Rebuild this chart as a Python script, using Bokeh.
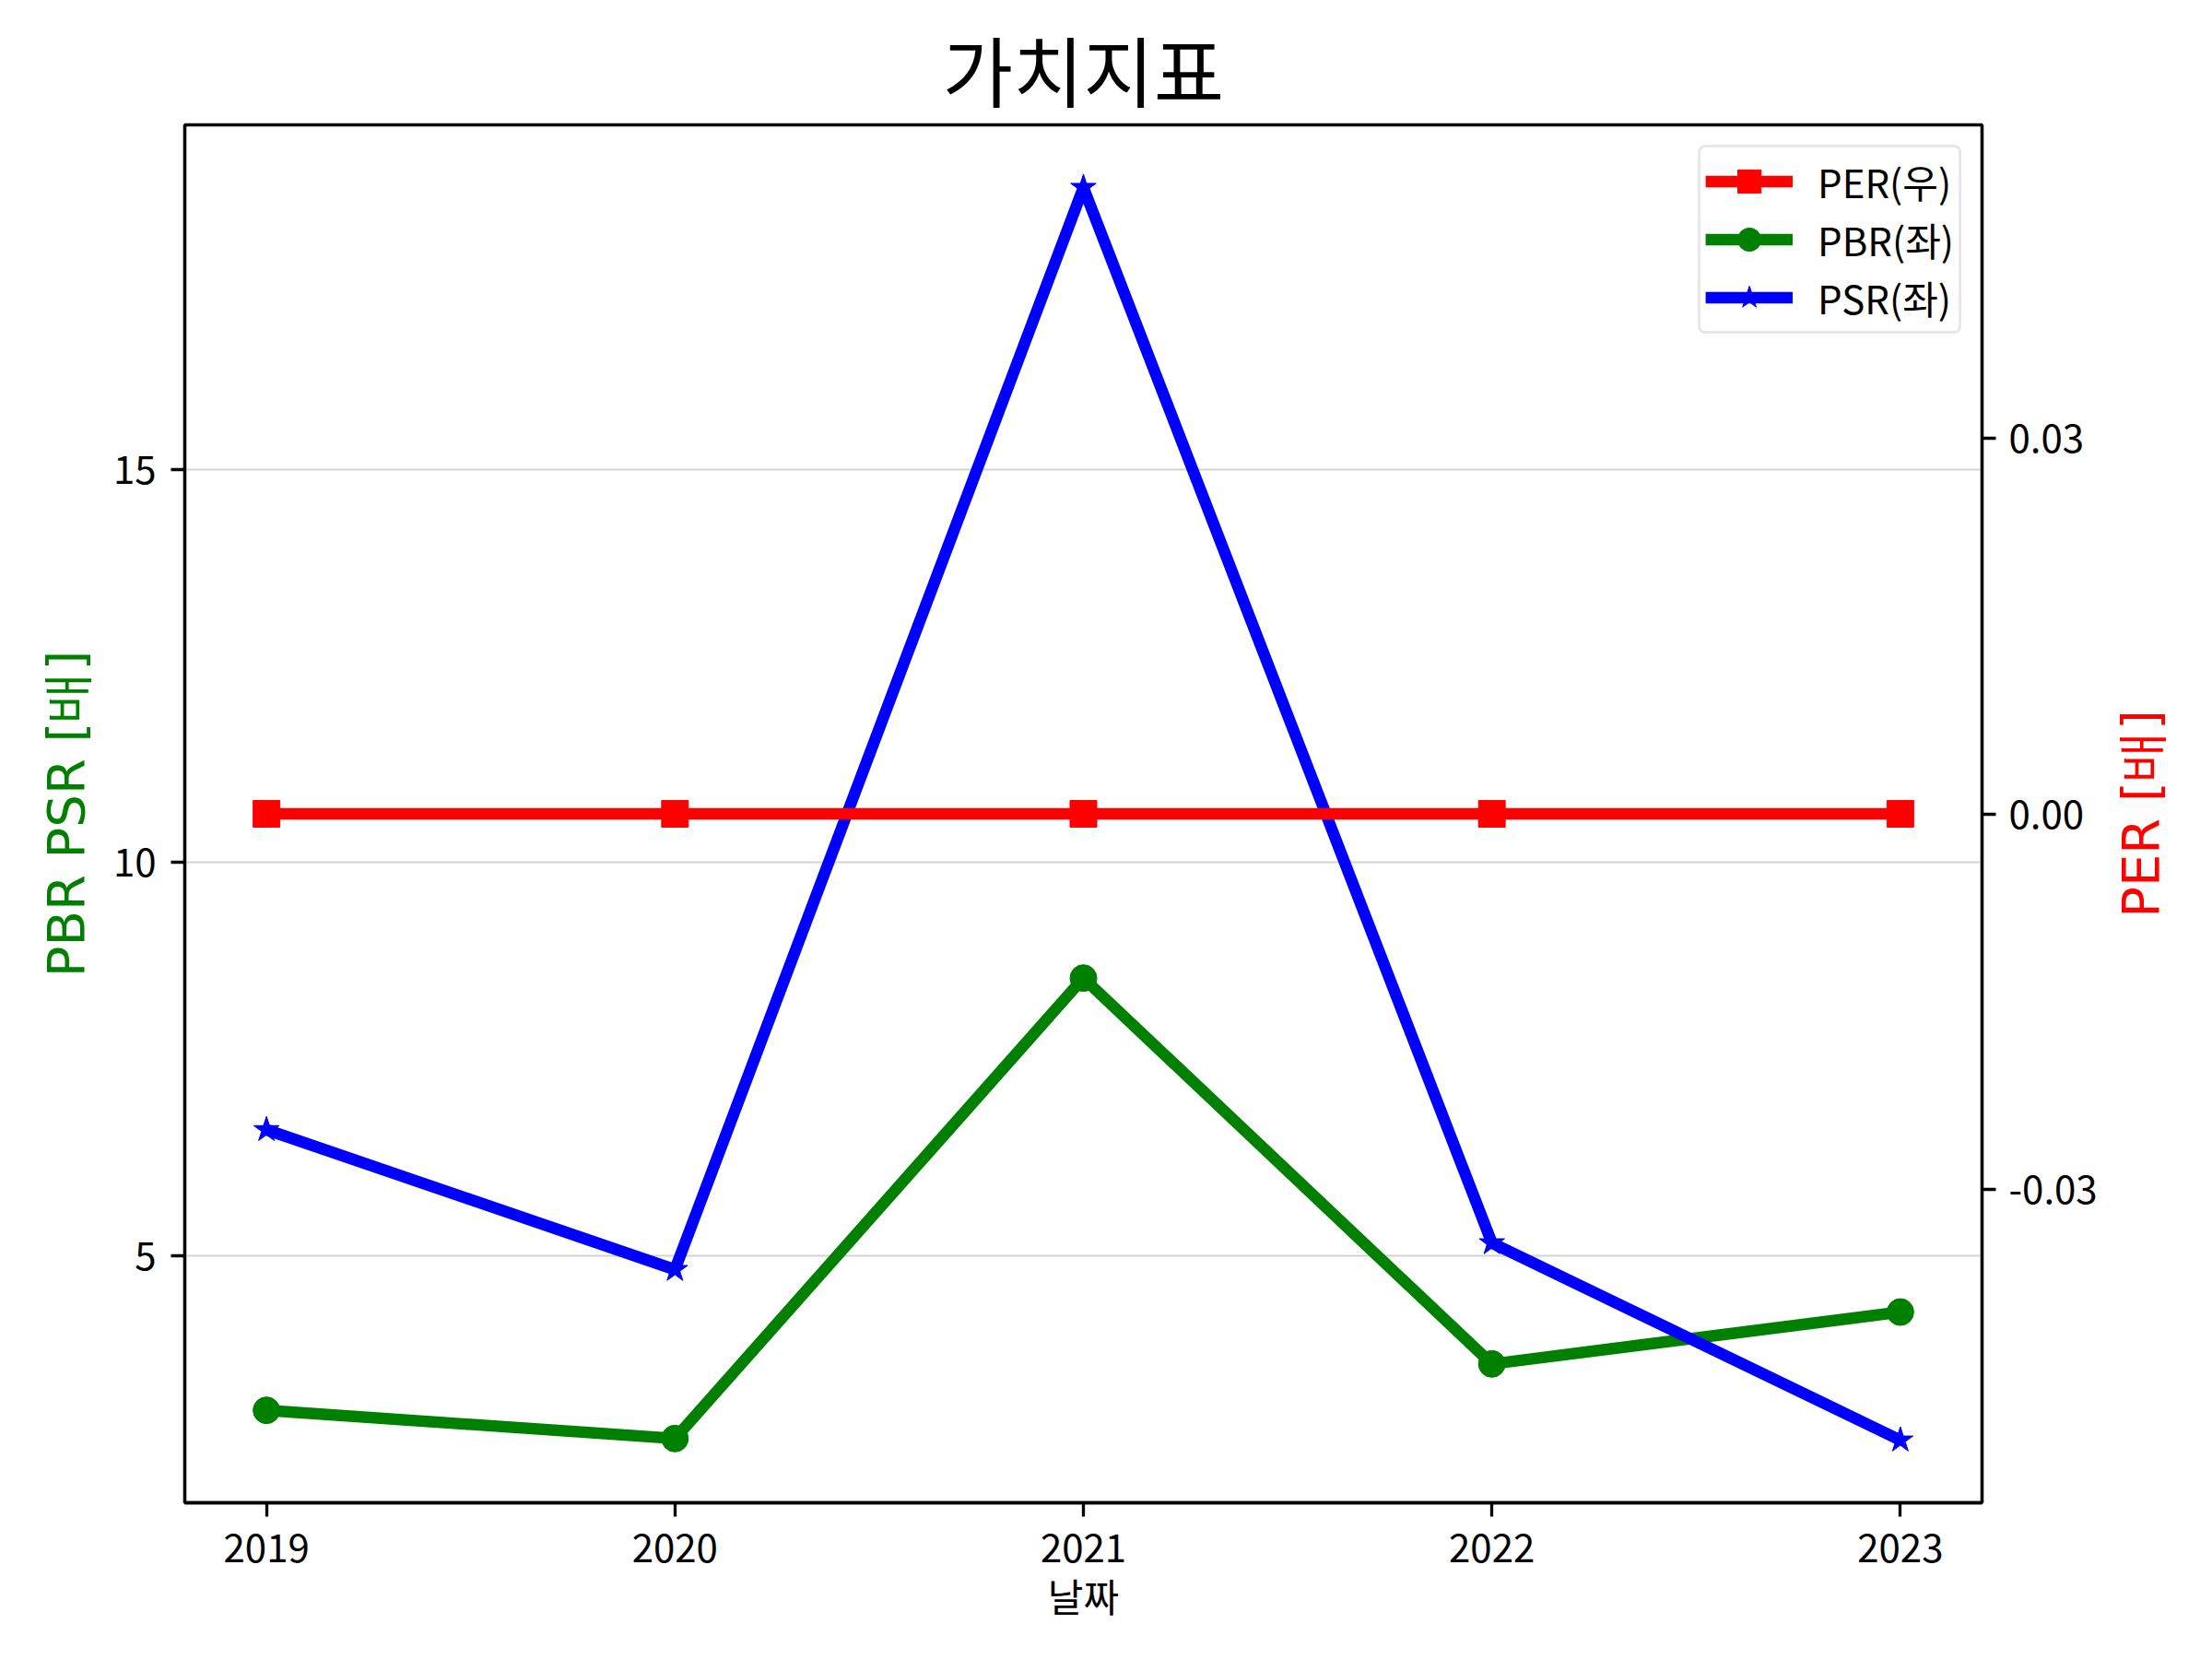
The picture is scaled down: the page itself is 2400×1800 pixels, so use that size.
import math
from bokeh.plotting import figure
from bokeh.layouts import row
from bokeh.models import (Range1d, LinearAxis, FixedTicker, PrintfTickFormatter,
                          Legend, LegendItem, Label)
from bokeh.embed import file_html
from bokeh.resources import INLINE

# ---- data ----
years = [2019, 2020, 2021, 2022, 2023]
per = [0.0, 0.0, 0.0, 0.0, 0.0]
pbr = [3.03, 2.67, 8.53, 3.62, 4.28]
psr = [6.60, 4.82, 18.59, 5.16, 2.65]
left_ticks = [5, 10, 15]
right_ticks = [-0.03, 0.0, 0.03]
title_text = "가치지표"
x_label = "날짜"
left_label = "PBR PSR [배]"
right_label = "PER [배]"
legend_labels = ["PER(우)", "PBR(좌)", "PSR(좌)"]

# ---- ranges (matplotlib-like 5% margins) ----
lo, hi = min(pbr + psr), max(pbr + psr)
m = (hi - lo) * 0.05
xm = (max(years) - min(years)) * 0.05
plo, phi = min(per), max(per)
if phi - plo == 0:
    plo, phi = plo - 0.05, phi + 0.05
pm = (phi - plo) * 0.05

KR = "Noto Sans CJK KR"
FS = "42px"
H = 1784
TOP, BOT = 135, 154
MAIN_W = 2286
SIDE_W = 2384 - MAIN_W

p = figure(width=MAIN_W, height=H, output_backend="svg", toolbar_location=None,
           x_range=Range1d(min(years) - xm, max(years) + xm),
           y_range=Range1d(lo - m, hi + m),
           min_border_left=200, min_border_right=MAIN_W - 2150,
           min_border_top=TOP, min_border_bottom=BOT)
p.extra_y_ranges = {"per": Range1d(plo - pm, phi + pm)}

p.title.text = title_text
p.title.align = "center"
p.title.text_font = KR
p.title.text_font_size = "83px"
p.title.text_font_style = "normal"
p.title.text_color = "black"
p.title.standoff = 3

p.outline_line_color = "black"
p.outline_line_width = 3.3
p.background_fill_color = "white"
p.border_fill_color = "white"

p.xgrid.visible = False
p.ygrid.grid_line_color = "#d3d3d3"
p.ygrid.grid_line_width = 2
p.ygrid.ticker = FixedTicker(ticks=left_ticks)


def style_axis(ax):
    ax.axis_line_color = "black"
    ax.axis_line_width = 3.3
    ax.major_tick_line_color = "black"
    ax.major_tick_line_width = 3.3
    ax.major_tick_out = 15
    ax.major_tick_in = 0
    ax.minor_tick_line_color = None
    ax.major_label_text_font = KR
    ax.major_label_text_font_size = FS
    ax.major_label_text_color = "black"
    ax.axis_label_text_font_style = "normal"


xa = p.xaxis[0]
xa.ticker = FixedTicker(ticks=years)
xa.formatter = PrintfTickFormatter(format="%d")
style_axis(xa)
xa.major_label_standoff = 18
xa.axis_label = x_label
xa.axis_label_text_font = KR
xa.axis_label_text_font_size = FS
xa.axis_label_text_color = "black"
xa.axis_label_standoff = 2

ya = p.yaxis[0]
ya.ticker = FixedTicker(ticks=left_ticks)
style_axis(ya)
ya.major_label_standoff = 16
ya.axis_label = left_label
ya.axis_label_text_font = "DejaVu Sans"
ya.axis_label_text_font_size = "56px"
ya.axis_label_text_color = "green"
ya.axis_label_standoff = 16

ra = LinearAxis(y_range_name="per", ticker=FixedTicker(ticks=right_ticks),
                formatter=PrintfTickFormatter(format="%.2f"))
style_axis(ra)
ra.major_label_standoff = 14
p.add_layout(ra, "right")

LW = 12.5
MS = 29
g_line = p.line(years, pbr, line_color="green", line_width=LW)
g_mark = p.scatter(years, pbr, marker="circle", size=MS, fill_color="green", line_color="green")
b_line = p.line(years, psr, line_color="blue", line_width=LW)
b_mark = p.scatter(years, psr, marker="star", size=MS, fill_color="blue", line_color="blue")
r_line = p.line(years, per, line_color="red", line_width=LW, y_range_name="per")
r_mark = p.scatter(years, per, marker="square", size=MS, fill_color="red", line_color="red",
                   y_range_name="per")

legend = Legend(items=[
    LegendItem(label=legend_labels[0], renderers=[r_line, r_mark]),
    LegendItem(label=legend_labels[1], renderers=[g_line, g_mark]),
    LegendItem(label=legend_labels[2], renderers=[b_line, b_mark]),
], location="top_right")
legend.margin = 22
legend.padding = 5
legend.spacing = 0
legend.glyph_width = 95
legend.glyph_height = 63
legend.label_height = 42
legend.label_standoff = 27
legend.label_text_font = KR
legend.label_text_font_size = FS
legend.label_text_color = "black"
legend.border_line_color = "#d0d0d0"
legend.border_line_width = 3
legend.background_fill_color = "white"
legend.background_fill_alpha = 0.8
try:
    legend.border_radius = 8
except Exception:
    pass
p.add_layout(legend, "center")

# ---- side strip holding the right-hand axis title (reads bottom-to-top) ----
side = figure(width=SIDE_W, height=H, output_backend="svg", toolbar_location=None,
              x_range=Range1d(0, 1), y_range=Range1d(plo - pm, phi + pm),
              x_axis_type=None, y_axis_type=None,
              min_border_left=0, min_border_right=0,
              min_border_top=TOP, min_border_bottom=BOT)
side.outline_line_color = None
side.xgrid.visible = False
side.ygrid.visible = False
side.background_fill_color = "white"
side.border_fill_color = "white"
side.add_layout(Label(x=0, x_offset=SIDE_W * 0.37, y=(plo + phi) / 2, text=right_label,
                      angle=math.pi / 2, text_align="center", text_baseline="middle",
                      text_font="DejaVu Sans", text_font_size="56px", text_color="red"))

layout = row(p, side, spacing=0)
open("out.html", "w").write(file_html(layout, INLINE))
